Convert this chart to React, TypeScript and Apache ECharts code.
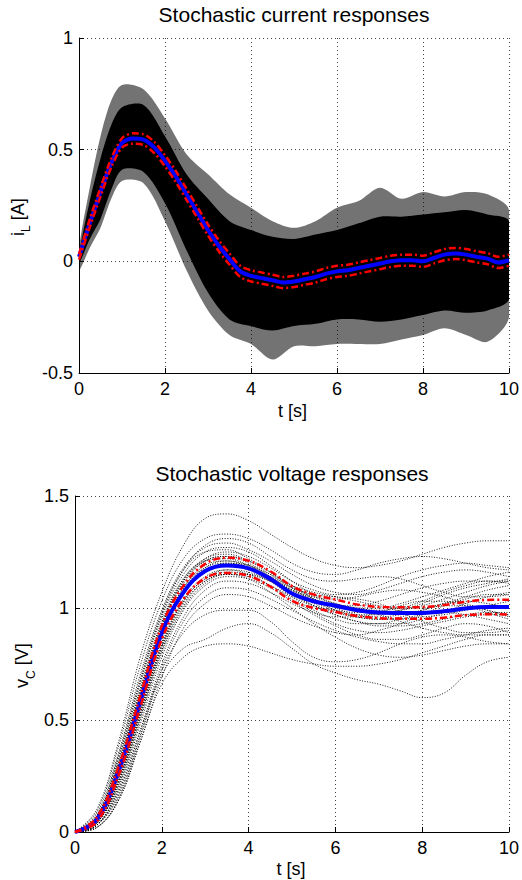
import React, { useEffect, useRef } from "react";
import * as echarts from "echarts";

const FONT = '"Liberation Sans", Arial, Helvetica, sans-serif';

// ---------- time grids ----------
const T_FINE = [0, 0.25, 0.5, 0.75, 1, 1.25, 1.5, 1.75, 2, 2.25, 2.5, 2.75, 3, 3.25, 3.5, 3.75, 4, 4.25, 4.5, 4.75, 5, 5.25, 5.5, 5.75, 6, 6.25, 6.5, 6.75, 7, 7.25, 7.5, 7.75, 8, 8.25, 8.5, 8.75, 9, 9.25, 9.5, 9.75, 10];
const T_BAND = [0, 0.25, 0.5, 0.75, 1, 1.5, 2, 2.5, 3, 3.5, 4, 4.5, 5, 5.5, 6, 6.5, 7, 7.5, 8, 8.5, 9, 9.5, 10];
const T_HALF = [0, 0.5, 1, 1.5, 2, 2.5, 3, 3.5, 4, 4.5, 5, 5.5, 6, 6.5, 7, 7.5, 8, 8.5, 9, 9.5, 10];

// ---------- current (top) ----------
const CURRENT_MEAN = [0.02, 0.17, 0.31, 0.44, 0.53, 0.55, 0.545, 0.51, 0.45, 0.38, 0.30, 0.22, 0.14, 0.07, 0.01, -0.045, -0.065, -0.075, -0.085, -0.095, -0.09, -0.08, -0.07, -0.055, -0.045, -0.04, -0.03, -0.02, -0.01, 0.0, 0.005, 0.005, 0.0, 0.015, 0.03, 0.035, 0.03, 0.02, 0.012, -0.005, 0.005];
const CURRENT_STD = [0.012, 0.018, 0.02, 0.02, 0.021, 0.023, 0.024, 0.025, 0.025, 0.025, 0.025, 0.025, 0.025, 0.025, 0.025, 0.025, 0.025, 0.025, 0.025, 0.025, 0.025, 0.025, 0.025, 0.025, 0.025, 0.025, 0.025, 0.025, 0.025, 0.025, 0.025, 0.025, 0.025, 0.025, 0.025, 0.025, 0.025, 0.025, 0.025, 0.025, 0.025];
// envelope of the sampled trajectories (sparse outer / dense core)
const CURRENT_OUTER_UP = [0.06, 0.33, 0.56, 0.72, 0.79, 0.77, 0.64, 0.48, 0.39, 0.30, 0.24, 0.18, 0.15, 0.18, 0.24, 0.27, 0.33, 0.28, 0.31, 0.29, 0.31, 0.30, 0.23];
const CURRENT_CORE_UP = [0.03, 0.27, 0.46, 0.61, 0.69, 0.70, 0.56, 0.39, 0.28, 0.18, 0.14, 0.11, 0.10, 0.12, 0.14, 0.17, 0.20, 0.20, 0.21, 0.22, 0.23, 0.21, 0.18];
const CURRENT_CORE_LO = [-0.01, 0.10, 0.19, 0.32, 0.41, 0.40, 0.26, 0.05, -0.14, -0.26, -0.29, -0.31, -0.29, -0.28, -0.26, -0.26, -0.27, -0.26, -0.24, -0.22, -0.23, -0.22, -0.17];
const CURRENT_OUTER_LO = [-0.04, 0.06, 0.15, 0.28, 0.36, 0.35, 0.18, -0.04, -0.22, -0.33, -0.37, -0.44, -0.38, -0.38, -0.37, -0.37, -0.37, -0.35, -0.33, -0.30, -0.33, -0.36, -0.25];

// ---------- voltage (bottom) ----------
const VOLTAGE_MEAN = [0, 0.055, 0.27, 0.58, 0.89, 1.07, 1.165, 1.19, 1.177, 1.13, 1.065, 1.03, 1.01, 0.99, 0.98, 0.978, 0.978, 0.985, 0.998, 1.004, 1.004];
const VOLTAGE_STD = [0, 0.01, 0.02, 0.025, 0.03, 0.03, 0.032, 0.034, 0.034, 0.034, 0.033, 0.03, 0.028, 0.026, 0.025, 0.025, 0.026, 0.028, 0.03, 0.032, 0.033];
const VOLTAGE_RUNS = [
  [0, 0.10, 0.40, 0.78, 1.07, 1.28, 1.40, 1.42, 1.39, 1.33, 1.27, 1.22, 1.19, 1.18, 1.19, 1.21, 1.24, 1.27, 1.29, 1.30, 1.30],
  [0, 0.09, 0.38, 0.74, 1.03, 1.22, 1.31, 1.33, 1.31, 1.26, 1.20, 1.16, 1.15, 1.17, 1.20, 1.22, 1.23, 1.22, 1.20, 1.18, 1.17],
  [0, 0.08, 0.35, 0.70, 0.99, 1.18, 1.27, 1.29, 1.26, 1.21, 1.15, 1.10, 1.07, 1.06, 1.08, 1.11, 1.14, 1.16, 1.17, 1.16, 1.14],
  [0, 0.07, 0.32, 0.66, 0.96, 1.15, 1.25, 1.27, 1.25, 1.19, 1.12, 1.06, 1.02, 1.00, 0.99, 1.00, 1.03, 1.07, 1.10, 1.12, 1.12],
  [0, 0.06, 0.30, 0.63, 0.93, 1.13, 1.22, 1.24, 1.21, 1.15, 1.09, 1.05, 1.04, 1.05, 1.07, 1.08, 1.07, 1.05, 1.02, 0.99, 0.97],
  [0, 0.06, 0.28, 0.61, 0.91, 1.11, 1.21, 1.23, 1.20, 1.14, 1.07, 1.01, 0.97, 0.94, 0.93, 0.93, 0.95, 0.98, 1.02, 1.05, 1.07],
  [0, 0.05, 0.27, 0.59, 0.89, 1.09, 1.19, 1.21, 1.18, 1.12, 1.05, 0.99, 0.95, 0.93, 0.93, 0.95, 0.97, 0.98, 0.97, 0.95, 0.93],
  [0, 0.05, 0.25, 0.57, 0.87, 1.07, 1.17, 1.19, 1.17, 1.13, 1.09, 1.06, 1.05, 1.04, 1.02, 0.98, 0.94, 0.91, 0.89, 0.89, 0.90],
  [0, 0.04, 0.23, 0.54, 0.84, 1.04, 1.14, 1.17, 1.15, 1.10, 1.04, 0.98, 0.93, 0.90, 0.89, 0.90, 0.92, 0.94, 0.96, 0.97, 0.97],
  [0, 0.04, 0.21, 0.51, 0.81, 1.01, 1.12, 1.15, 1.14, 1.10, 1.05, 1.01, 0.99, 0.98, 0.98, 0.99, 1.01, 1.04, 1.07, 1.10, 1.12],
  [0, 0.03, 0.19, 0.48, 0.78, 0.99, 1.10, 1.14, 1.13, 1.09, 1.03, 0.97, 0.92, 0.88, 0.86, 0.86, 0.88, 0.91, 0.93, 0.92, 0.89],
  [0, 0.03, 0.17, 0.45, 0.75, 0.96, 1.08, 1.12, 1.11, 1.07, 1.02, 0.98, 0.96, 0.96, 0.98, 1.01, 1.03, 1.03, 1.01, 0.98, 0.95],
  [0, 0.03, 0.16, 0.43, 0.73, 0.94, 1.05, 1.09, 1.08, 1.04, 0.99, 0.94, 0.90, 0.87, 0.85, 0.84, 0.84, 0.86, 0.88, 0.90, 0.91],
  [0, 0.02, 0.14, 0.40, 0.69, 0.91, 1.02, 1.06, 1.05, 1.01, 0.96, 0.92, 0.89, 0.88, 0.90, 0.93, 0.97, 1.01, 1.04, 1.06, 1.06],
  [0, 0.03, 0.18, 0.45, 0.72, 0.89, 0.97, 0.99, 0.99, 0.94, 0.85, 0.78, 0.76, 0.77, 0.80, 0.84, 0.87, 0.88, 0.87, 0.85, 0.84],
  [0, 0.02, 0.15, 0.42, 0.70, 0.82, 0.86, 0.91, 0.93, 0.89, 0.82, 0.75, 0.71, 0.68, 0.66, 0.63, 0.60, 0.62, 0.70, 0.76, 0.78],
  [0, 0.07, 0.33, 0.67, 0.97, 1.17, 1.28, 1.31, 1.29, 1.23, 1.17, 1.13, 1.12, 1.13, 1.14, 1.13, 1.10, 1.07, 1.05, 1.05, 1.06],
  [0, 0.05, 0.26, 0.58, 0.88, 1.08, 1.18, 1.21, 1.19, 1.14, 1.08, 1.03, 1.01, 1.01, 1.03, 1.06, 1.09, 1.11, 1.12, 1.12, 1.11],
  [0, 0.04, 0.22, 0.52, 0.82, 1.02, 1.12, 1.15, 1.13, 1.07, 1.00, 0.93, 0.87, 0.82, 0.79, 0.78, 0.79, 0.81, 0.83, 0.84, 0.84],
  [0, 0.06, 0.29, 0.62, 0.92, 1.12, 1.22, 1.25, 1.23, 1.18, 1.12, 1.08, 1.06, 1.07, 1.10, 1.14, 1.17, 1.19, 1.20, 1.19, 1.18],
  [0, 0.06, 0.31, 0.64, 0.94, 1.13, 1.21, 1.22, 1.19, 1.14, 1.10, 1.07, 1.05, 1.03, 1.01, 1.00, 1.00, 1.02, 1.05, 1.08, 1.10],
  [0, 0.05, 0.24, 0.55, 0.86, 1.06, 1.16, 1.20, 1.19, 1.15, 1.10, 1.04, 0.99, 0.96, 0.95, 0.96, 0.99, 1.02, 1.03, 1.02, 1.00],
  [0, 0.04, 0.22, 0.53, 0.83, 1.03, 1.13, 1.16, 1.15, 1.12, 1.08, 1.04, 1.00, 0.97, 0.96, 0.97, 0.99, 1.01, 1.01, 0.99, 0.96],
  [0, 0.07, 0.34, 0.68, 0.98, 1.17, 1.25, 1.26, 1.22, 1.16, 1.09, 1.03, 0.99, 0.97, 0.97, 0.99, 1.02, 1.06, 1.09, 1.11, 1.13],
  [0, 0.05, 0.27, 0.59, 0.89, 1.09, 1.18, 1.20, 1.18, 1.13, 1.07, 1.02, 0.98, 0.96, 0.95, 0.95, 0.96, 0.97, 0.99, 1.01, 1.03],
  [0, 0.03, 0.20, 0.50, 0.80, 1.00, 1.11, 1.15, 1.15, 1.12, 1.08, 1.04, 1.01, 0.99, 0.97, 0.94, 0.91, 0.89, 0.88, 0.88, 0.88],
  [0, 0.06, 0.30, 0.62, 0.92, 1.12, 1.21, 1.23, 1.21, 1.16, 1.10, 1.05, 1.02, 1.00, 1.00, 1.02, 1.05, 1.08, 1.11, 1.14, 1.16],
  [0, 0.04, 0.23, 0.53, 0.83, 1.03, 1.13, 1.17, 1.16, 1.12, 1.06, 1.01, 0.97, 0.94, 0.92, 0.92, 0.93, 0.95, 0.97, 0.98, 0.98],
  [0, 0.02, 0.14, 0.40, 0.66, 0.78, 0.83, 0.84, 0.83, 0.80, 0.77, 0.75, 0.74, 0.74, 0.75, 0.77, 0.80, 0.83, 0.86, 0.88, 0.88],
];

// ---------- axes ----------
const X_MIN = 0, X_MAX = 10, X_STEP = 2;
const I_MIN = -0.5, I_MAX = 1, I_STEP = 0.5;
const V_MIN = 0, V_MAX = 1.5, V_STEP = 0.5;
const TITLES = ["Stochastic current responses", "Stochastic voltage responses"];

const pairs = (T: number[], v: number[]) => T.map((t, i) => [t, v[i]]);

function band(gi: number, T: number[], up: number[], lo: number[], fill: string, z: number) {
  return {
    type: "custom",
    xAxisIndex: gi,
    yAxisIndex: gi,
    data: [[T[0], up[0]]],
    clip: true,
    silent: true,
    z,
    renderItem: (_p: any, api: any) => {
      const pts: number[][] = [];
      for (let i = 0; i < T.length; i++) pts.push(api.coord([T[i], up[i]]));
      for (let i = T.length - 1; i >= 0; i--) pts.push(api.coord([T[i], lo[i]]));
      return { type: "polygon", shape: { points: pts, smooth: 0.3 }, style: { fill, stroke: null } };
    },
  };
}

function line(gi: number, data: number[][], color: string, width: number, type: any, z: number, smooth = 0.3, opacity = 1) {
  return {
    type: "line",
    xAxisIndex: gi,
    yAxisIndex: gi,
    data,
    showSymbol: false,
    smooth,
    silent: true,
    z,
    lineStyle: { color, width, type, opacity, cap: "butt" },
  };
}

function axisPair(gi: number, ymin: number, ymax: number, ystep: number) {
  const common = {
    gridIndex: gi,
    axisLine: { show: true, onZero: false, lineStyle: { color: "#000", width: 1 } },
    axisTick: { show: true, inside: true, length: 5, lineStyle: { color: "#000" } },
    splitLine: { show: true, showMinLine: false, showMaxLine: true, lineStyle: { color: "#444", width: 1, type: [1, 3] } },
  };
  return {
    x: {
      ...common,
      type: "value",
      min: X_MIN,
      max: X_MAX,
      interval: X_STEP,
      axisLabel: { color: "#000", fontSize: 18, fontFamily: FONT, margin: 7 },
    },
    y: {
      ...common,
      type: "value",
      min: ymin,
      max: ymax,
      interval: ystep,
      axisLabel: { color: "#000", fontSize: 18, fontFamily: FONT, margin: 6 },
    },
  };
}

function text(x: number, y: number, t: string, size: number, extra: any = {}) {
  return {
    type: "text",
    x,
    y,
    silent: true,
    style: { text: t, fill: "#000", fontSize: size, fontFamily: FONT, textAlign: "center", textVerticalAlign: "middle", ...extra },
  };
}

function ylabel(x: number, y: number, main: string, sub: string, rest: string, subW: number, mainW: number) {
  return {
    type: "group",
    x,
    y,
    rotation: Math.PI / 2,
    silent: true,
    children: [
      { type: "text", x: 0, y: 0, style: { text: main, fill: "#000", fontSize: 18, fontFamily: FONT, textAlign: "left", textVerticalAlign: "middle" } },
      { type: "text", x: mainW, y: 8.5, style: { text: sub, fill: "#000", fontSize: 12, fontFamily: FONT, textAlign: "left", textVerticalAlign: "middle" } },
      { type: "text", x: mainW + subW, y: 0, style: { text: rest, fill: "#000", fontSize: 18, fontFamily: FONT, textAlign: "left", textVerticalAlign: "middle" } },
    ],
  };
}

export default function App() {
  const ref = useRef<HTMLDivElement>(null);
  useEffect(() => {
    if (!ref.current) return;
    const chart = echarts.init(ref.current, undefined, { renderer: "svg" });
    const a0 = axisPair(0, I_MIN, I_MAX, I_STEP);
    const a1 = axisPair(1, V_MIN, V_MAX, V_STEP);

    const curUp = CURRENT_MEAN.map((m, i) => m + CURRENT_STD[i]);
    const curLo = CURRENT_MEAN.map((m, i) => m - CURRENT_STD[i]);
    const volUp = VOLTAGE_MEAN.map((m, i) => m + VOLTAGE_STD[i]);
    const volLo = VOLTAGE_MEAN.map((m, i) => m - VOLTAGE_STD[i]);
    const RED_DASH = [7, 3, 2, 3];

    const series: any[] = [
      band(0, T_BAND, CURRENT_OUTER_UP, CURRENT_OUTER_LO, "rgba(0,0,0,0.55)", 2),
      band(0, T_BAND, CURRENT_CORE_UP, CURRENT_CORE_LO, "#000", 3),
      line(0, pairs(T_FINE, CURRENT_MEAN), "#0000ff", 4, "solid", 5),
      line(0, pairs(T_FINE, curUp), "#ff0000", 2.5, RED_DASH, 6),
      line(0, pairs(T_FINE, curLo), "#ff0000", 2.5, RED_DASH, 6),
      ...VOLTAGE_RUNS.map((run) => line(1, pairs(T_HALF, run), "#000", 1, [1, 1.6], 3, 0.4, 0.9)),
      line(1, pairs(T_HALF, VOLTAGE_MEAN), "#0000ff", 4, "solid", 5, 0.4),
      line(1, pairs(T_HALF, volUp), "#ff0000", 2.5, RED_DASH, 6, 0.4),
      line(1, pairs(T_HALF, volLo), "#ff0000", 2.5, RED_DASH, 6, 0.4),
    ];

    chart.setOption({
      animation: false,
      backgroundColor: "#fff",
      grid: [
        { left: 79, top: 38, width: 431, height: 335 },
        { left: 75, top: 496, width: 435, height: 336 },
      ],
      xAxis: [a0.x, a1.x],
      yAxis: [a0.y, a1.y],
      series,
      graphic: [
        text(294, 14, TITLES[0], 21),
        text(292, 473, TITLES[1], 21),
        text(292.5, 411, "t [s]", 18),
        text(291, 869, "t [s]", 18),
        ylabel(17.5, 236, "i", "L", " [A]", 6.7, 4),
        ylabel(22, 688, "v", "C", " [V]", 8.7, 9),
      ],
    });
    return () => chart.dispose();
  }, []);
  return <div ref={ref} style={{ position: "fixed", left: 0, top: 0, width: 522, height: 880, background: "#fff" }} />;
}
